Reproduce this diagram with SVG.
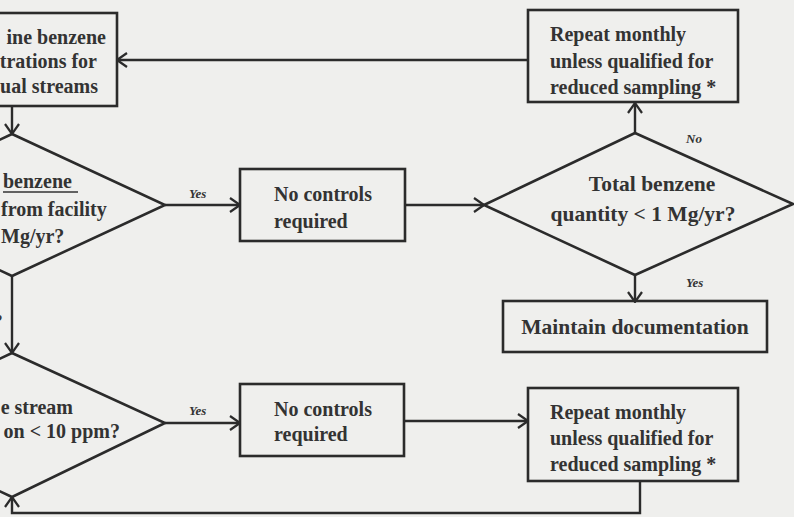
<svg xmlns="http://www.w3.org/2000/svg" width="794" height="517" viewBox="0 0 794 517">
<defs>
<marker id="arr" viewBox="0 0 12 16" refX="11" refY="8" markerWidth="12" markerHeight="16" markerUnits="userSpaceOnUse" orient="auto">
<path d="M1,1 L11,8 L1,15" fill="none" stroke="#2b2b2b" stroke-width="2.2"/>
</marker>
<style>
.bx{fill:none;stroke:#2b2b2b;stroke-width:2.6}
.ln{fill:none;stroke:#2b2b2b;stroke-width:2.4}
.t{font-family:"Liberation Serif","Times New Roman",serif;font-weight:bold;font-size:20px;fill:#333}
.big{font-size:21.5px}
.lab{font-family:"Liberation Serif","Times New Roman",serif;font-weight:bold;font-style:italic;font-size:13px;fill:#333}
</style>
</defs>
<rect width="794" height="517" fill="#efefed"/>
<g id="connectors">
<path class="ln" d="M528,60 L117,60" marker-end="url(#arr)"/>
<path class="ln" d="M12,106 L12,134" marker-end="url(#arr)"/>
<path class="ln" d="M165,205 L240,205" marker-end="url(#arr)"/>
<path class="ln" d="M405,205 L484,205" marker-end="url(#arr)"/>
<path class="ln" d="M635,133 L635,103" marker-end="url(#arr)"/>
<path class="ln" d="M635,275 L635,302" marker-end="url(#arr)"/>
<path class="ln" d="M12,276 L12,353" marker-end="url(#arr)"/>
<path class="ln" d="M165,423 L240,423" marker-end="url(#arr)"/>
<path class="ln" d="M404,421 L528,421" marker-end="url(#arr)"/>
<path class="ln" d="M640,481 L640,513 L12,513 L12,497" marker-end="url(#arr)"/>
<text class="lab" x="189" y="198">Yes</text>
<text class="lab" x="686" y="143">No</text>
<text class="lab" x="686" y="287">Yes</text>
<text class="lab" x="189" y="415">Yes</text>
<text class="lab" x="-14" y="321">No</text>
</g>
<g id="determine">
<rect class="bx" x="-20" y="13" width="137" height="93"/>
<text class="t" x="106" y="44" text-anchor="end">ine benzene</text>
<text class="t" x="97" y="68" text-anchor="end">trations for</text>
<text class="t" x="98" y="93" text-anchor="end">ual streams</text>
</g>
<g id="decision1">
<path class="bx" d="M-141,205 L12,134 L165,205 L12,276 Z"/>
<text class="t" x="3" y="188">benzene</text>
<line x1="3" y1="192" x2="78" y2="192" stroke="#333" stroke-width="1.6"/>
<text class="t" x="1" y="216">from facility</text>
<text class="t" x="1" y="243">Mg/yr?</text>
</g>
<g id="nocontrols1">
<rect class="bx" x="240" y="169" width="165" height="72"/>
<text class="t" x="274" y="201">No controls</text>
<text class="t" x="274" y="228">required</text>
</g>
<g id="decision2">
<path class="bx" d="M484,205 L635,133 L793,204 L635,275 Z"/>
<text class="t big" x="652" y="191" text-anchor="middle">Total benzene</text>
<text class="t big" x="643" y="221" text-anchor="middle">quantity &lt; 1 Mg/yr?</text>
</g>
<g id="repeat1">
<rect class="bx" x="528" y="10" width="210" height="92"/>
<text class="t" x="550" y="41">Repeat monthly</text>
<text class="t" x="550" y="68">unless qualified for</text>
<text class="t" x="550" y="94">reduced sampling *</text>
</g>
<g id="maintain">
<rect class="bx" x="503" y="301" width="264" height="51"/>
<text class="t big" x="635" y="334" text-anchor="middle">Maintain documentation</text>
</g>
<g id="decision3">
<path class="bx" d="M-141,425 L12,353 L165,423 L12,497 Z"/>
<text class="t" x="73" y="414" text-anchor="end">e stream</text>
<text class="t" x="120" y="438" text-anchor="end">on &lt; 10 ppm?</text>
</g>
<g id="nocontrols2">
<rect class="bx" x="240" y="384" width="164" height="72"/>
<text class="t" x="274" y="416">No controls</text>
<text class="t" x="274" y="441">required</text>
</g>
<g id="repeat2">
<rect class="bx" x="528" y="388" width="210" height="93"/>
<text class="t" x="550" y="419">Repeat monthly</text>
<text class="t" x="550" y="445">unless qualified for</text>
<text class="t" x="550" y="471">reduced sampling *</text>
</g>
</svg>
